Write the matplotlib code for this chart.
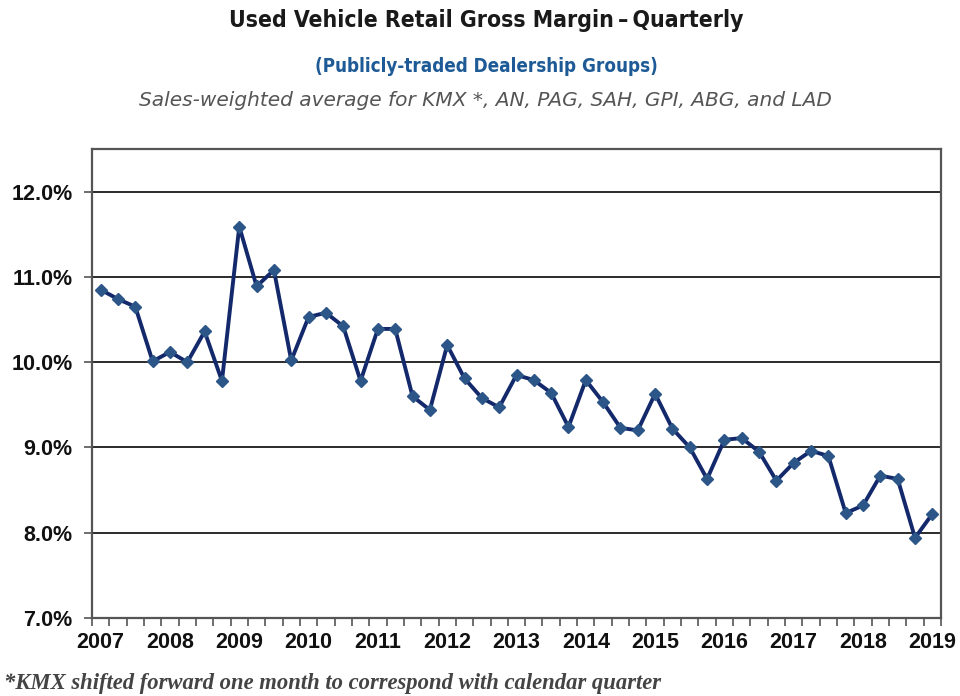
import numpy as np
import matplotlib as mpl
import matplotlib.pyplot as plt
from matplotlib.ticker import FixedLocator, FuncFormatter

# Quarterly used vehicle retail gross margin (%), Q1 2007 .. Q1 2019
margin = [
    10.85, 10.74, 10.65, 10.01, 10.12, 10.00, 10.36, 9.78,   # 2007-2008
    11.59, 10.89, 11.08, 10.02, 10.53, 10.58, 10.42, 9.78,   # 2009-2010
    10.39, 10.39, 9.60, 9.44, 10.20, 9.81, 9.58, 9.47,       # 2011-2012
    9.85, 9.79, 9.64, 9.24, 9.79, 9.53, 9.23, 9.20,          # 2013-2014
    9.63, 9.22, 9.00, 8.63, 9.09, 9.11, 8.95, 8.61,          # 2015-2016
    8.82, 8.96, 8.90, 8.23, 8.32, 8.67, 8.63, 7.94,          # 2017-2018
    8.22,                                                    # 2019
]
years = list(range(2007, 2020))
y_ticks = [7, 8, 9, 10, 11, 12]

TITLE = 'Used Vehicle Retail Gross Margin\u2009\u2013\u2009Quarterly'
SUBTITLE = '(Publicly-traded Dealership Groups)'
SUBTITLE2 = 'Sales-weighted average for KMX *, AN, PAG, SAH, GPI, ABG, and LAD'
FOOTNOTE = '*KMX shifted forward one month to correspond with calendar quarter'

LINE_COLOR = '#13296b'
MARKER_COLOR = '#2b5687'
AXIS_COLOR = '#555555'

plt.rcParams.update({
    'font.family': ['Liberation Sans', 'DejaVu Sans'],
})

fig = plt.figure(figsize=(9.6, 6.96), dpi=100)
ax = fig.add_axes([92 / 960, 1 - 618 / 696, (941 - 92) / 960, (618 - 149) / 696])

x = np.arange(len(margin))
ax.plot(x, margin, color=LINE_COLOR, lw=2.8, marker='D', ms=6,
        mfc=MARKER_COLOR, mec=MARKER_COLOR, zorder=3)

ax.set_xlim(-0.5, len(margin) - 0.5)
ax.set_ylim(7.0, 12.5)

# horizontal gridlines
ax.set_yticks(y_ticks)
ax.yaxis.set_major_formatter(FuncFormatter(lambda v, p: f'{v:.1f}%'))
ax.grid(axis='y', color='#1a1a1a', lw=1.3)
ax.set_axisbelow(True)

# quarter tick marks between categories, year labels at Q1 points
ax.xaxis.set_minor_locator(FixedLocator(np.arange(-0.5, len(margin), 1)))
ax.set_xticks([4 * i for i in range(len(years))])
ax.set_xticklabels([str(y) for y in years])
ax.tick_params(axis='x', which='major', length=0, pad=10,
               labelsize=15.5)
ax.tick_params(axis='x', which='minor', length=6, width=1.2,
               color=AXIS_COLOR, direction='out')
ax.tick_params(axis='y', length=6, width=1.2, color=AXIS_COLOR,
               pad=8, labelsize=15.5)
for lab in ax.get_xticklabels() + ax.get_yticklabels():
    lab.set_fontweight('bold')
    lab.set_color('#111111')

for side in ax.spines.values():
    side.set_color(AXIS_COLOR)
    side.set_linewidth(1.6)

fig.text(0.507, 0.970, TITLE, ha='center', va='center', fontsize=16.5,
         fontweight='bold', stretch='condensed', color='#1a1a1a',
         family=['DejaVu Sans'])
fig.text(0.507, 0.905, SUBTITLE, ha='center', va='center', fontsize=13.5,
         fontweight='bold', stretch='condensed', color='#1d5a96',
         family=['DejaVu Sans'])
fig.text(0.506, 0.855, SUBTITLE2, ha='center', va='center', fontsize=14.5,
         style='italic', color='#555555', family=['DejaVu Sans'])
fig.text(0.004, 0.018, FOOTNOTE, ha='left', va='center', fontsize=16.3,
         style='italic', fontweight='bold', color='#444444',
         family=['Liberation Serif', 'DejaVu Serif'])

fig.savefig('out.png', dpi=100, facecolor='white')
